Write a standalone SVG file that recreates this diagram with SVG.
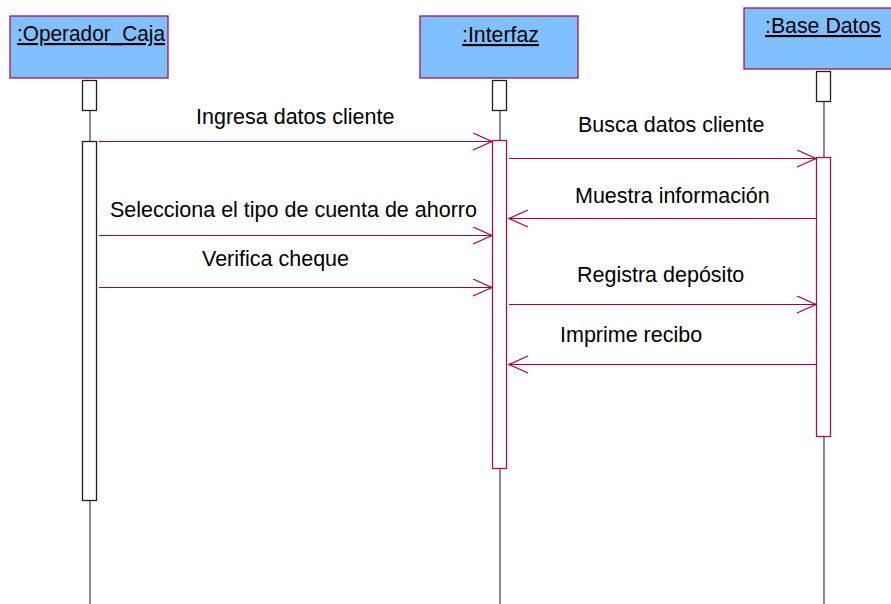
<svg xmlns="http://www.w3.org/2000/svg" width="891" height="604" viewBox="0 0 891 604">
<style>
.obj{fill:#80c0ff;stroke:#b0104a;stroke-width:1.3}
.head{font-family:"Liberation Sans",Arial,sans-serif;font-size:21.3px;fill:#000;text-decoration:underline}
.lbl{font-family:"Liberation Sans",Arial,sans-serif;font-size:21.5px;fill:#000}
.life{stroke:#404040;stroke-width:1.2;fill:none}
.box{fill:#fff;stroke:#202020;stroke-width:1.3}
.act{fill:#fff;stroke:#b0104a;stroke-width:1.3}
.msg{stroke:#a8003c;stroke-width:1.2;fill:none}
</style>
<defs>
<marker id="open" markerWidth="22" markerHeight="20" refX="20" refY="9" orient="auto" markerUnits="userSpaceOnUse">
<path d="M1,0.5 L20,9 L1,17.5" fill="none" stroke="#a8003c" stroke-width="1.2"/>
</marker>
</defs>
<g id="operador">
<rect class="obj" x="10" y="16" width="158" height="62"/>
<text class="head" x="17" y="41" textLength="148" lengthAdjust="spacingAndGlyphs">:Operador_Caja</text>
<line class="life" x1="90" y1="110" x2="90" y2="604"/>
<rect class="box" x="82.5" y="80.5" width="14" height="30"/>
<rect class="box" x="82.5" y="141.5" width="14" height="359"/>
</g>
<g id="interfaz">
<rect class="obj" x="420" y="16" width="158" height="62"/>
<text class="head" x="500.5" y="42" text-anchor="middle">:Interfaz</text>
<line class="life" x1="500" y1="110" x2="500" y2="604"/>
<rect class="box" x="492.5" y="80.5" width="14" height="30"/>
<rect class="act" x="492.5" y="140.5" width="14" height="328"/>
</g>
<g id="basedatos">
<rect class="obj" x="744" y="8" width="160" height="61"/>
<text class="head" x="765" y="33">:Base Datos</text>
<line class="life" x1="824" y1="101" x2="824" y2="604"/>
<rect class="box" x="816.5" y="71.5" width="14" height="30"/>
<rect class="act" x="816.5" y="157.5" width="14" height="279"/>
</g>
<g id="connectors">
<line class="msg" x1="99" y1="141.5" x2="492" y2="141.5" marker-end="url(#open)"/>
<line class="msg" x1="509" y1="158.5" x2="816" y2="158.5" marker-end="url(#open)"/>
<line class="msg" x1="816" y1="218.5" x2="509" y2="218.5" marker-end="url(#open)"/>
<line class="msg" x1="99" y1="235.5" x2="492" y2="235.5" marker-end="url(#open)"/>
<line class="msg" x1="99" y1="287.5" x2="492" y2="287.5" marker-end="url(#open)"/>
<line class="msg" x1="509" y1="304.5" x2="816" y2="304.5" marker-end="url(#open)"/>
<line class="msg" x1="816" y1="364.5" x2="509" y2="364.5" marker-end="url(#open)"/>
<text class="lbl" x="196" y="124">Ingresa datos cliente</text>
<text class="lbl" x="578" y="132">Busca datos cliente</text>
<text class="lbl" x="575" y="203">Muestra información</text>
<text class="lbl" x="110" y="217">Selecciona el tipo de cuenta de ahorro</text>
<text class="lbl" x="202" y="266">Verifica cheque</text>
<text class="lbl" x="577" y="282">Registra depósito</text>
<text class="lbl" x="560" y="342">Imprime recibo</text>
</g>
</svg>
